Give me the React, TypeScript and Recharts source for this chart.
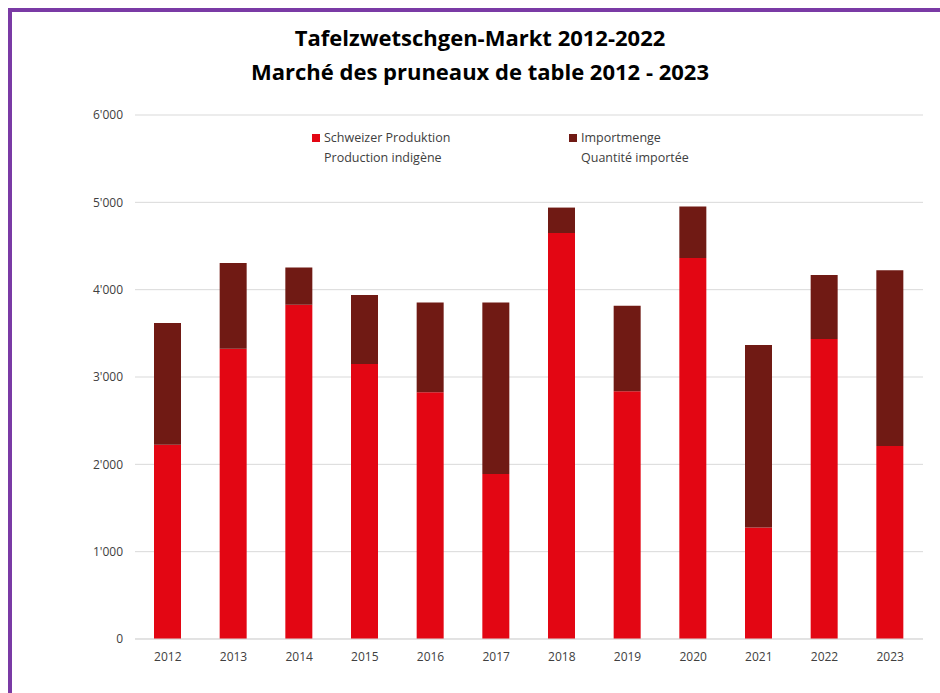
import { BarChart, Bar, XAxis, YAxis, CartesianGrid } from "recharts";

// ── Data ───────────────────────────────────────────────────────────────────
const years = ["2012", "2013", "2014", "2015", "2016", "2017", "2018", "2019", "2020", "2021", "2022", "2023"];
const produktion = [2225, 3324, 3828, 3149, 2824, 1889, 4649, 2836, 4363, 1278, 3435, 2210];
const import_ = [1393, 981, 427, 790, 1030, 1965, 291, 980, 588, 2088, 733, 2011];
const yTicks = [0, 1000, 2000, 3000, 4000, 5000, 6000];

const data = years.map((y, i) => ({ year: y, prod: produktion[i], imp: import_[i] }));

const colorProd = "#e30613";
const colorImp = "#701a14";
const purple = "#7a3aa5";
const textGray = "#404040";
const font = "'Open Sans', 'Noto Sans', sans-serif";

const fmt = (v: number) => {
  if (v === 0) return "0";
  const s = String(v);
  return s.slice(0, s.length - 3) + "'" + s.slice(-3);
};

function ChartLegend() {
  const items = [
    { color: colorProd, l1: "Schweizer Produktion", l2: "Production indigène", left: 312 },
    { color: colorImp, l1: "Importmenge", l2: "Quantité importée", left: 569 },
  ];
  return (
    <div style={{ position: "absolute", left: 0, top: 128, width: 940, height: 50, fontFamily: font, fontSize: 12.5, color: textGray }}>
      {items.map((it) => (
        <div key={it.l1} style={{ position: "absolute", left: it.left, top: 0, lineHeight: "20px" }}>
          <span style={{ display: "inline-block", width: 8, height: 8, background: it.color, marginRight: 4 }} />
          {it.l1}
          <div style={{ paddingLeft: 12 }}>{it.l2}</div>
        </div>
      ))}
    </div>
  );
}

export default function App() {
  return (
    <div style={{ position: "fixed", left: 0, top: 0, width: 940, height: 693, background: "#fff", overflow: "hidden" }}>
      {/* purple frame, top and left only */}
      <div style={{ position: "absolute", left: 8, top: 8, width: 932, height: 685, borderTop: `4px solid ${purple}`, borderLeft: `4px solid ${purple}` }} />

      <div style={{ position: "absolute", left: 0, top: 0 }}>
        <BarChart width={940} height={693} data={data} margin={{ top: 115, right: 17, left: 0, bottom: 24 }} barSize={27}>
          <CartesianGrid stroke="#d9d9d9" vertical={false} />
          <XAxis
            dataKey="year"
            tickLine={false}
            axisLine={{ stroke: "#d9d9d9" }}
            tickMargin={7}
            tick={{ fontSize: 12, fill: textGray, fontFamily: font }}
          />
          <YAxis
            width={135}
            domain={[0, 6000]}
            ticks={yTicks}
            tickFormatter={fmt}
            tickLine={false}
            axisLine={false}
            tickMargin={6}
            tick={{ fontSize: 12, fill: textGray, fontFamily: font }}
          />
          <Bar dataKey="prod" name="Schweizer Produktion" stackId="a" fill={colorProd} isAnimationActive={false} />
          <Bar dataKey="imp" name="Importmenge" stackId="a" fill={colorImp} isAnimationActive={false} />
        </BarChart>
      </div>

      <div style={{ position: "absolute", left: 0, top: 20, width: 960, textAlign: "center", fontFamily: font, fontWeight: 700, fontSize: 22, lineHeight: "34px", color: "#000" }}>
        <div>Tafelzwetschgen-Markt 2012-2022</div>
        <div>Marché des pruneaux de table 2012 - 2023</div>
      </div>

      <ChartLegend />
    </div>
  );
}
